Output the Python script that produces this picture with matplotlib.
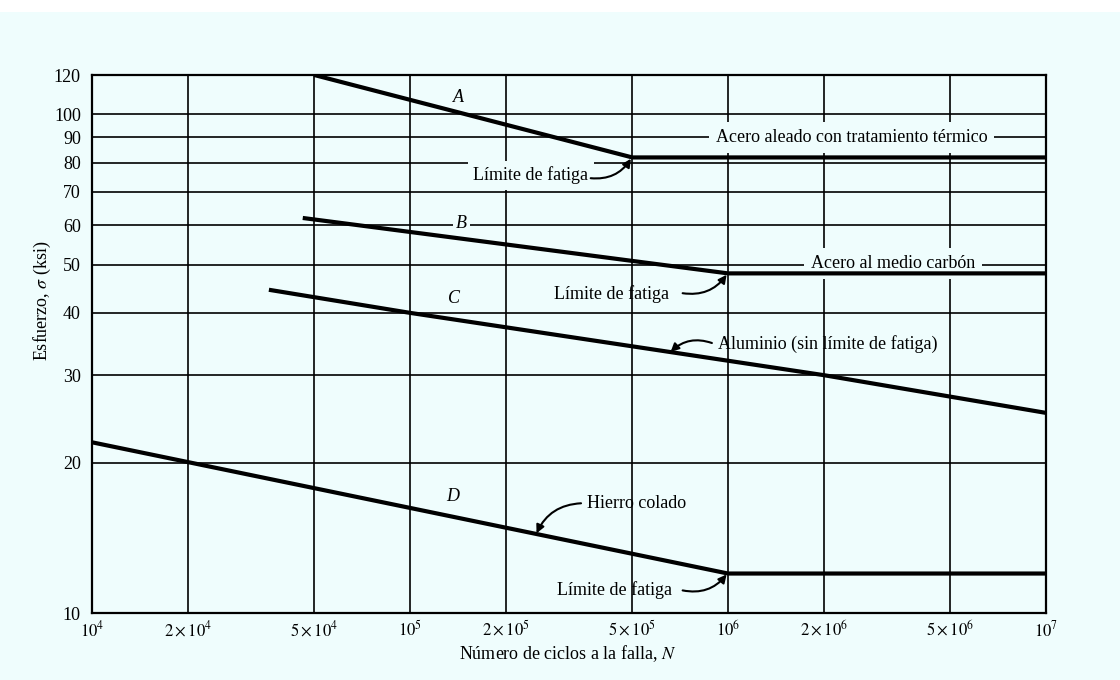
import matplotlib
matplotlib.use("Agg")
import matplotlib.pyplot as plt
from matplotlib.patches import Rectangle
import numpy as np

plt.rcParams['font.family'] = ['Liberation Serif', 'DejaVu Serif']
plt.rcParams['mathtext.fontset'] = 'stix'

BG = '#effdfd'

# ---- data ----
x_ticks = [1e4, 2e4, 5e4, 1e5, 2e5, 5e5, 1e6, 2e6, 5e6, 1e7]
x_labels = [r'$10^4$', r'$2\times10^4$', r'$5\times10^4$', r'$10^5$', r'$2\times10^5$',
            r'$5\times10^5$', r'$10^6$', r'$2\times10^6$', r'$5\times10^6$', r'$10^7$']
y_ticks = [10, 20, 30, 40, 50, 60, 70, 80, 90, 100, 120]
y_labels = ['10', '20', '30', '40', '50', '60', '70', '80', '90', '100', '120']

curve_A_N = [5e4, 5e5, 1e7]
curve_A_S = [120, 82, 82]
curve_B_N = [4.6e4, 1e6, 1e7]
curve_B_S = [62, 48, 48]
curve_C_N = [3.6e4, 1e5, 2e6, 1e7]
curve_C_S = [44.5, 40, 30, 25.2]
curve_D_N = [1e4, 1e6, 1e7]
curve_D_S = [22, 12, 12]

fig = plt.figure(figsize=(11.2, 6.8), dpi=100, facecolor=BG)
fig.patches.append(Rectangle((0, 1 - 12 / 680), 1, 12 / 680, transform=fig.transFigure,
                             facecolor='white', edgecolor='none', zorder=0))
ax = fig.add_axes([92 / 1120, 1 - 613 / 680, (1046 - 92) / 1120, (613 - 75) / 680])
ax.set_facecolor(BG)
ax.set_xscale('log')
ax.set_yscale('log')
ax.set_xlim(1e4, 1e7)
ax.set_ylim(10, 120)

ax.set_xticks(x_ticks)
ax.set_xticklabels(x_labels, fontsize=12)
ax.set_xticks([], minor=True)
ax.set_yticks(y_ticks)
ax.set_yticklabels(y_labels, fontsize=13)
ax.set_yticks([], minor=True)
ax.tick_params(length=0)
ax.tick_params(axis='x', pad=5)
ax.tick_params(axis='y', pad=8)

for xv in x_ticks:
    ax.axvline(xv, color='black', lw=1.2, zorder=1)
for yv in y_ticks:
    ax.axhline(yv, color='black', lw=1.2, zorder=1)
for s in ax.spines.values():
    s.set_linewidth(1.6)
    s.set_zorder(3)

for N, S in [(curve_A_N, curve_A_S), (curve_B_N, curve_B_S),
             (curve_C_N, curve_C_S), (curve_D_N, curve_D_S)]:
    ax.plot(N, S, color='black', lw=3.0, solid_capstyle='butt', zorder=4)

ax.text(1.42e5, 108, 'A', style='italic', fontsize=13, ha='center', va='center', zorder=5)
ax.text(1.45e5, 60.5, 'B', style='italic', fontsize=13, ha='center', va='center', zorder=2,
        bbox=dict(facecolor=BG, edgecolor='none', pad=2))
ax.text(1.38e5, 42.8, 'C', style='italic', fontsize=13, ha='center', va='center', zorder=5)
ax.text(1.36e5, 17.1, 'D', style='italic', fontsize=13, ha='center', va='center', zorder=5)

ax.text(2.45e6, 90, 'Acero aleado con tratamiento térmico', fontsize=13,
        ha='center', va='center', zorder=2, bbox=dict(facecolor=BG, edgecolor='none', pad=5))
ax.text(3.3e6, 50.3, 'Acero al medio carbón', fontsize=13,
        ha='center', va='center', zorder=2, bbox=dict(facecolor=BG, edgecolor='none', pad=5))
ax.text(2.4e5, 75.5, 'Límite de fatiga', fontsize=13, ha='center', va='center', zorder=2,
        bbox=dict(facecolor=BG, edgecolor='none', pad=4))
ax.text(4.3e5, 43.6, 'Límite de fatiga', fontsize=13, ha='center', va='center', zorder=5)
ax.text(4.4e5, 11.1, 'Límite de fatiga', fontsize=13, ha='center', va='center', zorder=5)
ax.text(9.3e5, 34.7, 'Aluminio (sin límite de fatiga)', fontsize=13, ha='left', va='center', zorder=5)
ax.text(3.6e5, 16.6, 'Hierro colado', fontsize=13, ha='left', va='center', zorder=5)

arrow = dict(arrowstyle='-|>', color='black', lw=1.5, mutation_scale=12, shrinkA=0, shrinkB=0)
ax.annotate('', xy=(4.95e5, 81.5), xytext=(3.7e5, 74.5),
            arrowprops=dict(arrow, connectionstyle='arc3,rad=0.3'), zorder=5)
ax.annotate('', xy=(9.9e5, 47.7), xytext=(7.2e5, 43.8),
            arrowprops=dict(arrow, connectionstyle='arc3,rad=0.3'), zorder=5)
ax.annotate('', xy=(9.9e5, 11.95), xytext=(7.2e5, 11.1),
            arrowprops=dict(arrow, connectionstyle='arc3,rad=0.3'), zorder=5)
ax.annotate('', xy=(6.6e5, 33.4), xytext=(8.9e5, 34.8),
            arrowprops=dict(arrow, connectionstyle='arc3,rad=0.3'), zorder=5)
ax.annotate('', xy=(2.5e5, 14.45), xytext=(3.45e5, 16.6),
            arrowprops=dict(arrow, connectionstyle='arc3,rad=0.3'), zorder=5)

fig.text(568 / 1120, 1 - 654 / 680, r'Número de ciclos a la falla, $N$', fontsize=13,
         ha='center', va='center')
fig.text(42 / 1120, 1 - 301 / 680, r'Esfuerzo, $\sigma$ (ksi)', fontsize=13,
         ha='center', va='center', rotation=90)

fig.savefig('out.png', dpi=100, facecolor=fig.get_facecolor())
